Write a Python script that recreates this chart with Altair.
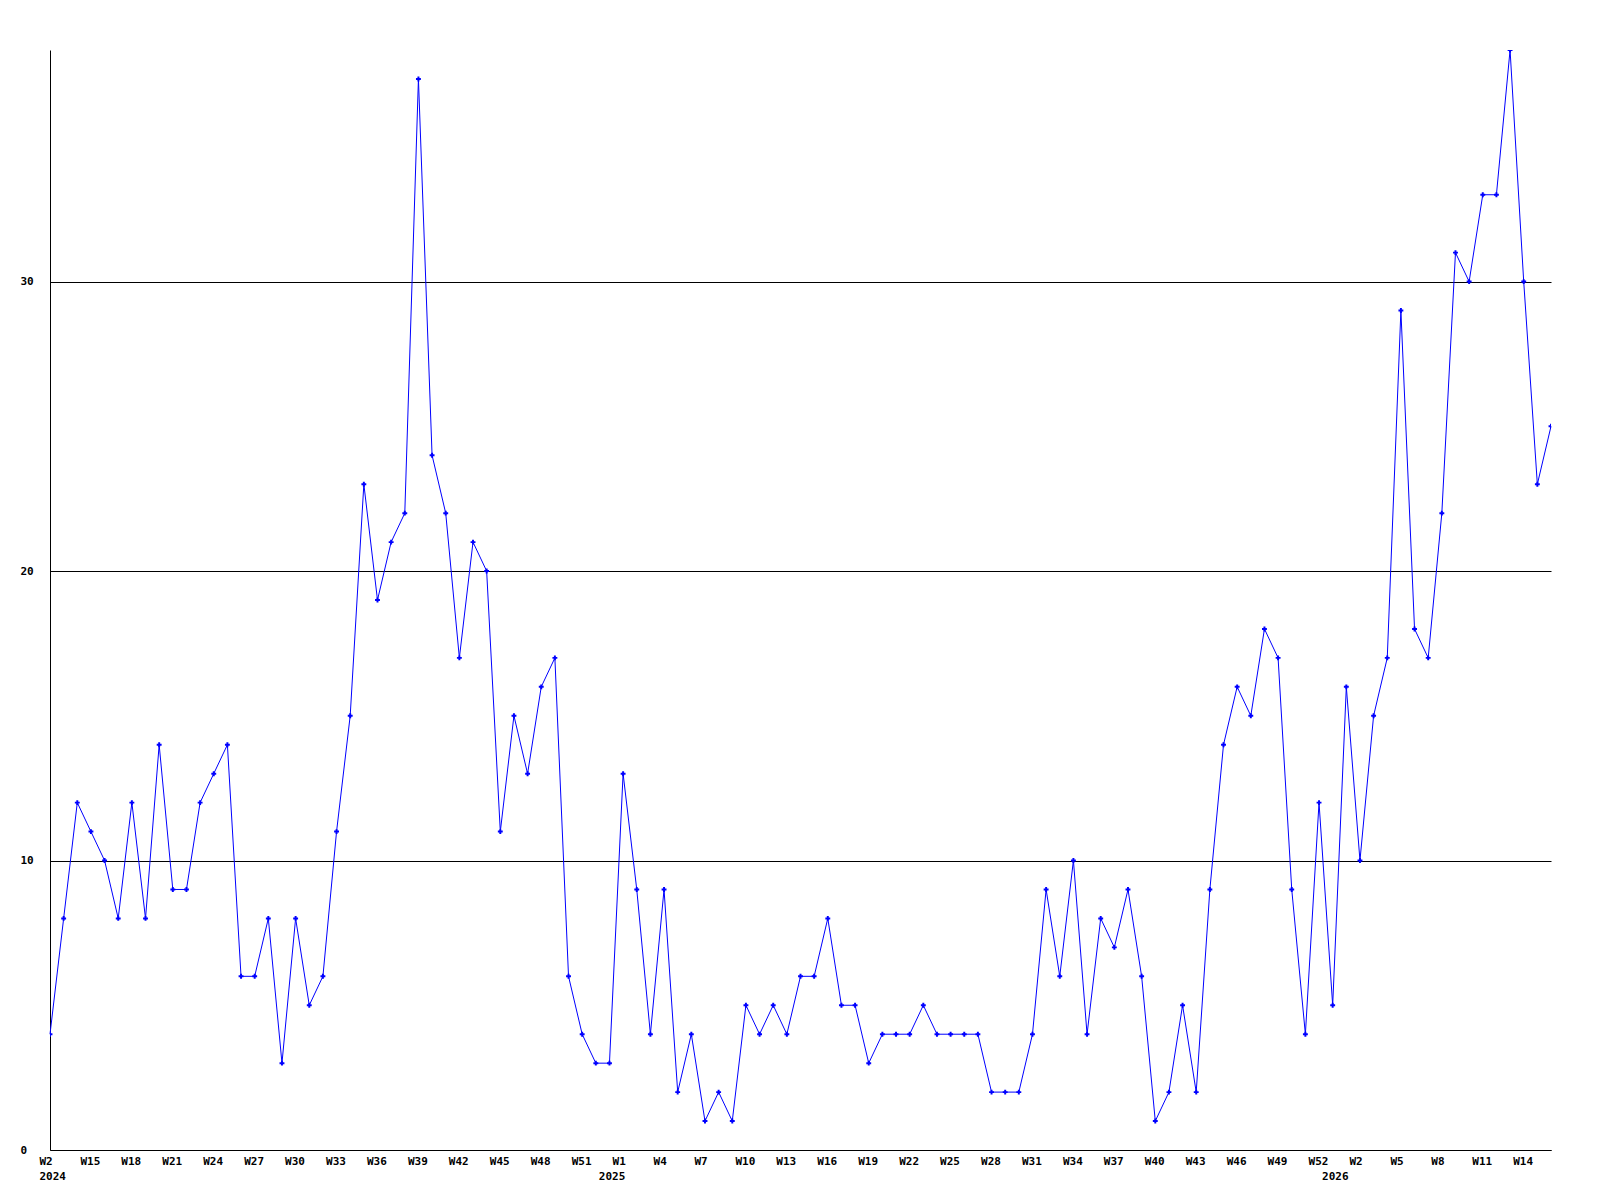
import altair as alt
import pandas as pd

# Weekly values (111 weeks)
values = [
    4, 8, 12, 11, 10, 8, 12, 8, 14, 9, 9, 12, 13, 14, 6, 6, 8, 3, 8, 5,
    6, 11, 15, 23, 19, 21, 22, 37, 24, 22, 17, 21, 20, 11, 15, 13, 16, 17, 6, 4,
    3, 3, 13, 9, 4, 9, 2, 4, 1, 2, 1, 5, 4, 5, 4, 6, 6, 8, 5, 5,
    3, 4, 4, 4, 5, 4, 4, 4, 4, 2, 2, 2, 4, 9, 6, 10, 4, 8, 7, 9,
    6, 1, 2, 5, 2, 9, 14, 16, 15, 18, 17, 9, 4, 12, 5, 16, 10, 15, 17, 29,
    18, 17, 22, 31, 30, 33, 33, 38, 30, 23, 25,
]

# Tick labels (one every 3 weeks)
tick_labels = [
    "W2", "W15", "W18", "W21", "W24", "W27", "W30", "W33", "W36", "W39",
    "W42", "W45", "W48", "W51", "W1", "W4", "W7", "W10", "W13", "W16",
    "W19", "W22", "W25", "W28", "W31", "W34", "W37", "W40", "W43", "W46",
    "W49", "W52", "W2", "W5", "W8", "W11", "W14",
]
tick_step = 3

# Year labels and the week index they sit under
years = ["2024", "2025", "2026"]
year_index = [1, 42, 95]

df = pd.DataFrame({"idx": list(range(len(values))), "value": values})
year_df = pd.DataFrame({"year": years, "idx": year_index})

tick_values = [i * tick_step for i in range(len(tick_labels))]
label_js = "[" + ",".join("'" + t + "'" for t in tick_labels) + "]"
label_expr = label_js + "[round(datum.value / " + str(tick_step) + ")]"

FONT = "DejaVu Sans Mono"
BLUE = "#0000ff"

x_scale = alt.Scale(domain=[0, len(values) - 1], nice=False, zero=False)
y_scale = alt.Scale(domain=[0, 38], nice=False)

x_enc = alt.X(
    "idx:Q",
    scale=x_scale,
    axis=alt.Axis(
        values=tick_values,
        labelExpr=label_expr,
        title=None,
        grid=False,
        ticks=False,
        tickSize=0,
        domain=True,
        domainColor="black",
        domainWidth=1,
        labelAlign="left",
        labelOffset=-11,
        labelBaseline="top",
        labelPadding=5,
        labelFont=FONT,
        labelFontSize=11,
        labelFontWeight="bold",
        labelColor="black",
        labelFlush=False,
        labelOverlap=False,
    ),
)

y_enc = alt.Y(
    "value:Q",
    scale=y_scale,
    axis=alt.Axis(
        values=[0, 10, 20, 30],
        title=None,
        grid=True,
        gridColor="black",
        gridWidth=1,
        gridOpacity=1,
        ticks=False,
        tickSize=0,
        domain=True,
        domainColor="black",
        domainWidth=1,
        labelAlign="left",
        labelBaseline="middle",
        labelPadding=30,
        labelFont=FONT,
        labelFontSize=11,
        labelFontWeight="bold",
        labelColor="black",
        labelFlush=False,
        labelOverlap=False,
    ),
)

line = alt.Chart(df).mark_line(color=BLUE, strokeWidth=1).encode(x=x_enc, y=y_enc)

points = alt.Chart(df).mark_point(
    shape="cross", filled=True, size=24, color=BLUE, opacity=1, clip=True
).encode(x=alt.X("idx:Q", scale=x_scale), y=alt.Y("value:Q", scale=y_scale))

year_text = alt.Chart(year_df).mark_text(
    font=FONT,
    fontSize=11,
    fontWeight="bold",
    color="black",
    align="center",
    baseline="alphabetic",
    dx=-11,
).encode(
    x=alt.X("idx:Q", scale=x_scale),
    y=alt.value(1130),
    text="year:N",
)

chart = (
    alt.layer(line, points, year_text)
    .properties(
        width=1501,
        height=1100,
        autosize=alt.AutoSizeParams(type="none"),
        padding={"left": 42, "top": 42, "right": 40, "bottom": 40},
        background="white",
    )
    .configure_view(stroke=None)
)

chart.save("out.html", embed_options={"renderer": "svg", "actions": False})
